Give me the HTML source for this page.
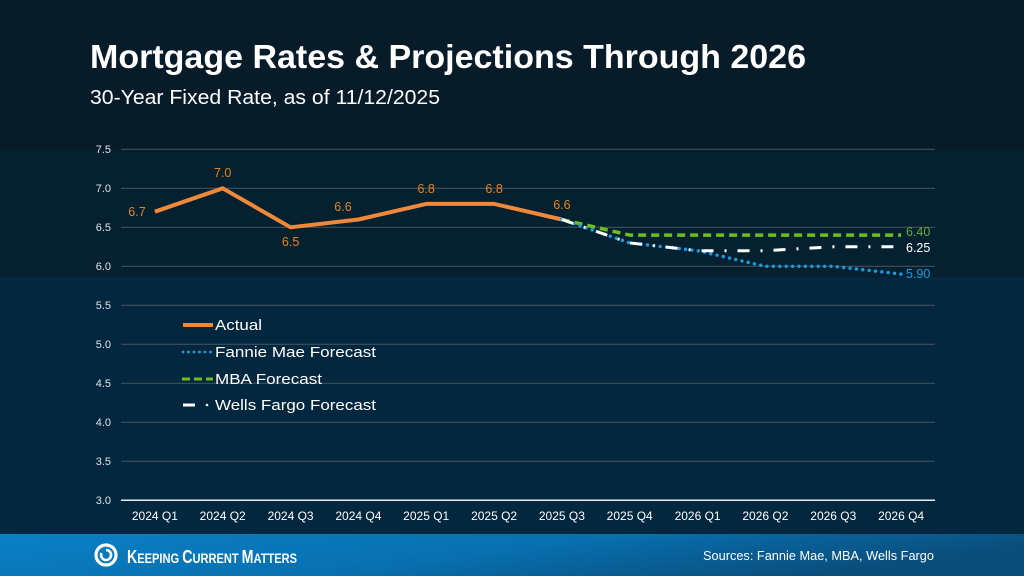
<!DOCTYPE html>
<html><head><meta charset="utf-8"><style>
html,body{margin:0;padding:0;background:#071b29;}
svg{display:block;}
text{font-family:"Liberation Sans",Arial,sans-serif;}
</style></head><body>
<svg width="1024" height="576" viewBox="0 0 1024 576" xmlns="http://www.w3.org/2000/svg">
<defs>
<linearGradient id="foot" x1="0" y1="0" x2="1" y2="0.3">
<stop offset="0" stop-color="#0b80c6"/><stop offset="0.55" stop-color="#0870b0"/><stop offset="1" stop-color="#0a4e7c"/>
</linearGradient>
</defs>
<rect x="0" y="0" width="1024" height="150" fill="#081b29"/>
<rect x="0" y="150" width="1024" height="127" fill="#05212f"/>
<rect x="0" y="277" width="1024" height="257" fill="#03273e"/>
<rect x="0" y="534" width="1024" height="42" fill="url(#foot)"/>

<text x="90" y="68" font-size="33" font-weight="bold" fill="#ffffff" textLength="716" lengthAdjust="spacingAndGlyphs">Mortgage Rates &amp; Projections Through 2026</text>
<text x="90" y="104" font-size="20" fill="#ffffff" textLength="350" lengthAdjust="spacingAndGlyphs">30-Year Fixed Rate, as of 11/12/2025</text>

<!-- gridlines -->
<g stroke="#4b5763" stroke-width="1">
<line x1="121" y1="149.3" x2="935" y2="149.3"/>
<line x1="121" y1="188.3" x2="935" y2="188.3"/>
<line x1="121" y1="227.3" x2="935" y2="227.3"/>
<line x1="121" y1="266.3" x2="935" y2="266.3"/>
<line x1="121" y1="305.3" x2="935" y2="305.3"/>
<line x1="121" y1="344.3" x2="935" y2="344.3"/>
<line x1="121" y1="383.3" x2="935" y2="383.3"/>
<line x1="121" y1="422.3" x2="935" y2="422.3"/>
<line x1="121" y1="461.3" x2="935" y2="461.3"/>
</g>
<line x1="121" y1="500.3" x2="935" y2="500.3" stroke="#e8ecef" stroke-width="1.5"/>

<!-- y labels -->
<g font-size="11" fill="#dfe4e8" text-anchor="end">
<text x="111" y="153">7.5</text>
<text x="111" y="192">7.0</text>
<text x="111" y="231">6.5</text>
<text x="111" y="270">6.0</text>
<text x="111" y="309">5.5</text>
<text x="111" y="348">5.0</text>
<text x="111" y="387">4.5</text>
<text x="111" y="426">4.0</text>
<text x="111" y="465">3.5</text>
<text x="111" y="504">3.0</text>
</g>

<!-- x labels -->
<g font-size="12" fill="#ffffff" text-anchor="middle">
<text x="154.9" y="520">2024 Q1</text>
<text x="222.7" y="520">2024 Q2</text>
<text x="290.6" y="520">2024 Q3</text>
<text x="358.4" y="520">2024 Q4</text>
<text x="426.2" y="520">2025 Q1</text>
<text x="494.1" y="520">2025 Q2</text>
<text x="561.9" y="520">2025 Q3</text>
<text x="629.7" y="520">2025 Q4</text>
<text x="697.6" y="520">2026 Q1</text>
<text x="765.4" y="520">2026 Q2</text>
<text x="833.3" y="520">2026 Q3</text>
<text x="901.1" y="520">2026 Q4</text>
</g>

<!-- series -->
<polyline points="154.9,211.7 222.7,188.3 290.6,227.3 358.4,219.5 426.2,203.9 494.1,203.9 561.9,219.5" fill="none" stroke="#f0883a" stroke-width="4" stroke-linejoin="round"/>
<polyline points="561.9,219.5 629.7,235.1 697.6,235.1 765.4,235.1 833.3,235.1 901.1,235.1" fill="none" stroke="#6cbf1f" stroke-width="3.5" stroke-dasharray="8 5"/>
<polyline points="561.9,219.5 629.7,242.9 697.6,250.7 765.4,266.3 833.3,266.3 901.1,274.1" fill="none" stroke="#1a9be2" stroke-width="3.4" stroke-linecap="round" stroke-dasharray="0 6.4"/>
<polyline points="561.9,219.5 629.7,242.9 697.6,250.7 765.4,250.7 833.3,246.8 901.1,246.8" fill="none" stroke="#ffffff" stroke-width="3" stroke-dasharray="12 11 2 11"/>

<!-- data labels -->
<g font-size="12.5" fill="#e8821f" text-anchor="middle">
<text x="137" y="216">6.7</text>
<text x="222.7" y="177">7.0</text>
<text x="290.6" y="246">6.5</text>
<text x="343" y="211">6.6</text>
<text x="426.2" y="193">6.8</text>
<text x="494.1" y="193">6.8</text>
<text x="561.9" y="209">6.6</text>
</g>
<text x="906" y="236" font-size="12.5" fill="#62a942">6.40</text>
<text x="906" y="252" font-size="12.5" fill="#ffffff">6.25</text>
<text x="906" y="278" font-size="12.5" fill="#1a9be2">5.90</text>

<!-- legend -->
<line x1="183" y1="325" x2="213" y2="325" stroke="#f0883a" stroke-width="4"/>
<line x1="183" y1="352" x2="213" y2="352" stroke="#1a9be2" stroke-width="2.8" stroke-linecap="round" stroke-dasharray="0 5.5"/>
<line x1="182" y1="379" x2="213" y2="379" stroke="#6cbf1f" stroke-width="3" stroke-dasharray="8 4"/>
<line x1="183" y1="405" x2="195" y2="405" stroke="#ffffff" stroke-width="3"/>
<circle cx="207" cy="405" r="1.3" fill="#ffffff"/>
<g font-size="15" fill="#ffffff">
<text x="215" y="330" textLength="47" lengthAdjust="spacingAndGlyphs">Actual</text>
<text x="215" y="357" textLength="161" lengthAdjust="spacingAndGlyphs">Fannie Mae Forecast</text>
<text x="215" y="384" textLength="107" lengthAdjust="spacingAndGlyphs">MBA Forecast</text>
<text x="215" y="410" textLength="161" lengthAdjust="spacingAndGlyphs">Wells Fargo Forecast</text>
</g>

<!-- footer -->
<g fill="none" stroke="#ffffff">
<circle cx="106" cy="555" r="10" stroke-width="3.2"/>
<path d="M106 550 a5 5 0 1 1 -4.5 3" stroke-width="2.6"/>
</g>
<text x="127" y="563" fill="#ffffff" font-size="14" font-weight="bold" textLength="170" lengthAdjust="spacingAndGlyphs"><tspan font-size="18">K</tspan>EEPING <tspan font-size="18">C</tspan>URRENT <tspan font-size="18">M</tspan>ATTERS</text>
<text x="934" y="560" text-anchor="end" font-size="12.5" fill="#ffffff" textLength="231" lengthAdjust="spacingAndGlyphs">Sources: Fannie Mae, MBA, Wells Fargo</text>
</svg>
</body></html>
